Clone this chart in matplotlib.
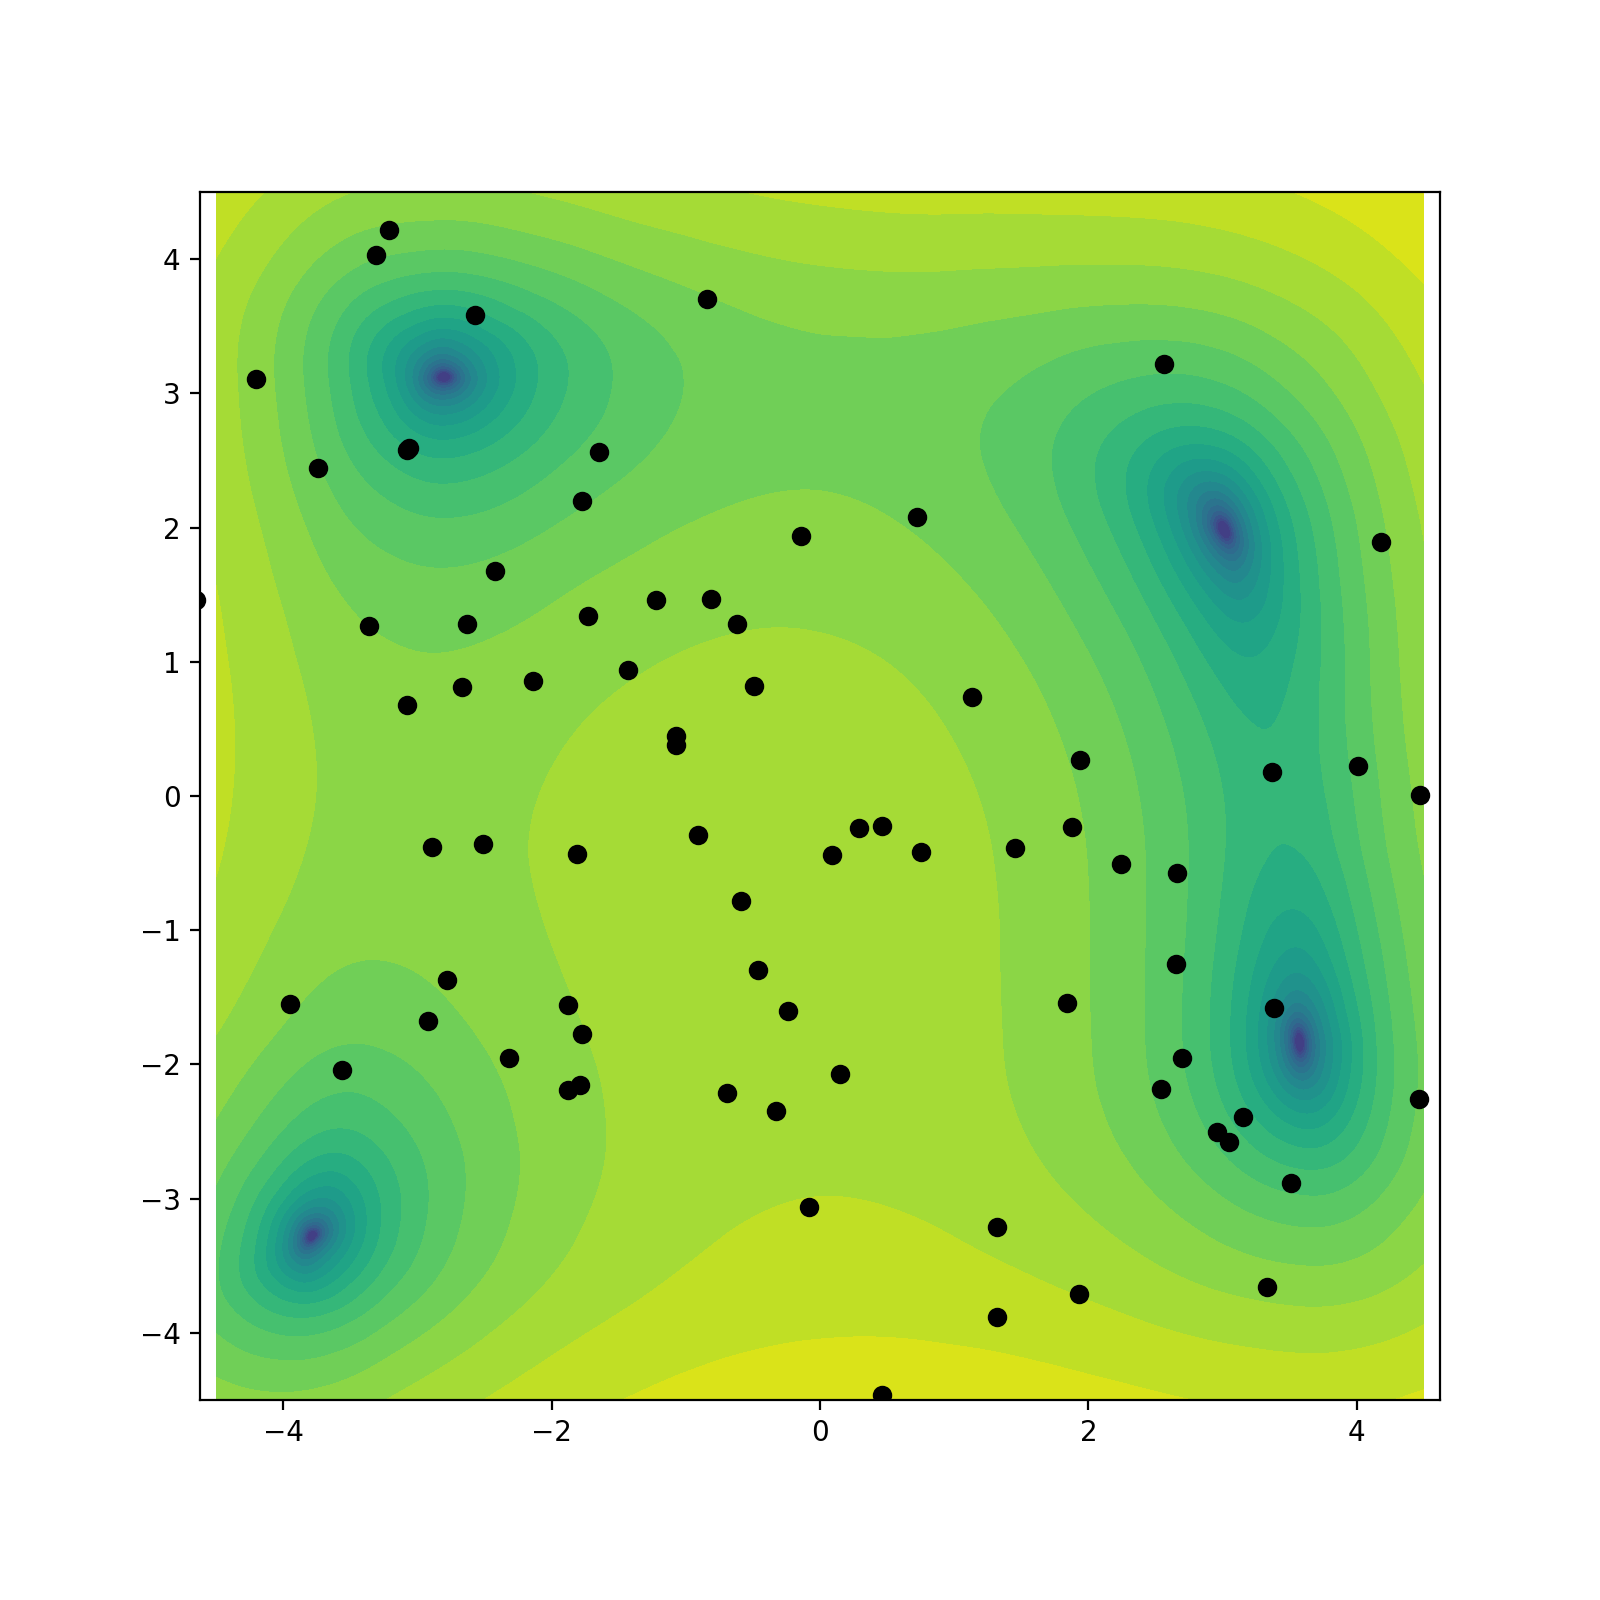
import numpy as np
import matplotlib
matplotlib.use("Agg")
import matplotlib.pyplot as plt
import matplotlib.tri as mtri

# surface table: nodes and estimated values (one row per y node)
grid_x = [-4.5, -3.78, -3.3, -2.8, -2, -1.25, -0.5, 0.25, 1, 1.75, 2.4, 3, 3.58, 4.1, 4.5]
grid_y = [-4.5, -3.8, -3.28, -2.6, -1.85, -1.2, -0.5, 0.25, 1, 1.5, 2, 2.5, 3.13, 3.8, 4.5]
surface = [
    [99, 91, 120, 168, 259, 338, 396, 420, 413, 380, 340, 306, 290, 303, 338],
    [38.3, 13.7, 32.4, 69.9, 147, 213, 260, 276, 261, 223, 179, 143, 125, 137, 173],
    [36.2, 0.01, 11.7, 42.4, 109, 168, 208, 218, 199, 156, 111, 73.6, 56, 68.2, 104],
    [66.7, 16.7, 19.8, 42.4, 97.2, 147, 179, 183, 160, 113, 66.2, 28.8, 11.8, 25.2, 62.3],
    [120, 56.3, 51.1, 65.8, 109, 150, 176, 175, 147, 99.2, 51.7, 15.1, 0.01, 16, 55.7],
    [166, 91.6, 80.2, 88.9, 124, 159, 180, 175, 146, 98, 51.5, 16.8, 4.3, 23.4, 65.9],
    [204, 119, 101, 105, 133, 163, 180, 173, 143, 96.2, 51.8, 20.3, 11.8, 35.2, 81.7],
    [221, 128, 105, 103, 125, 152, 165, 159, 130, 86, 45.5, 18.6, 15.6, 44.8, 96.2],
    [215, 114, 87.3, 82.1, 100, 124, 137, 132, 106, 66.3, 31, 10, 13.8, 50, 107],
    [202, 95.7, 66.7, 59.8, 75.9, 99, 113, 109, 86.4, 50.5, 19.5, 3.31, 12.4, 53.8, 116],
    [183, 74, 43.3, 35, 50, 73.5, 88.9, 87.5, 68, 36.9, 10.9, 0.01, 14.9, 62.2, 129],
    [166, 54, 22.1, 13, 27.9, 52.2, 69.7, 71.5, 56.4, 30.6, 10.2, 5.31, 26.7, 80.3, 152],
    [156, 42.2, 9.37, 0.01, 15.6, 42.2, 63.4, 70.3, 61.6, 43.8, 31.5, 34.9, 65.2, 128, 206],
    [179, 63.7, 30.7, 21.9, 39.8, 70.1, 96.5, 110, 110, 102, 98.9, 112, 153, 225, 313],
    [266, 150, 118, 111, 133, 168, 202, 224, 233, 237, 246, 270, 323, 407, 504],
]

# extra estimated values close to the four basins
near_x = [2.8, 3, 3.2, 2.8, 3.2, 2.8, 3, 3.2,
          -3, -2.8, -2.6, -3, -2.6, -3, -2.8, -2.6,
          -3.98, -3.78, -3.58, -3.98, -3.58, -3.98, -3.78, -3.58,
          3.38, 3.58, 3.78, 3.38, 3.78, 3.38, 3.58, 3.78]
near_y = [1.8, 1.8, 1.8, 2, 2, 2.2, 2.2, 2.2,
          2.93, 2.93, 2.93, 3.13, 3.13, 3.33, 3.33, 3.33,
          -3.48, -3.48, -3.48, -3.28, -3.28, -3.08, -3.08, -3.08,
          -2.05, -2.05, -2.05, -1.85, -1.85, -1.65, -1.65, -1.65]
near_z = [2.77, 0.62, 1.39, 1.39, 1.58, 1.33, 0.75, 3.15,
          2.87, 1.53, 2.75, 1.32, 1.27, 2.96, 1.69, 3.05,
          3.13, 1.81, 5.1, 2.48, 2.16, 5.32, 1.70, 2.78,
          3.0, 0.66, 2.5, 2.08, 2.11, 2.32, 0.52, 2.94]

# scatter points
pts_x = [-4.65, -4.20, -3.74, -3.31, -3.21, -2.57, -3.08, -3.06, -1.65, -1.77, -2.42, -3.36, -2.63,
         -2.67, -3.08, -2.14, -1.73, -1.22, -0.81, -0.62, -1.43, -0.49, -0.84, -0.14, 0.72,
         2.56, 4.18, 1.13, -1.07, -1.07, 1.94, 3.37, 4.01, 4.47, -2.89, -2.51, -1.81, -0.91,
         0.09, 0.29, 0.46, 0.75, 1.45, 1.88, 2.24, 2.66, -0.59, -0.46, -0.24, 2.65, -2.78,
         -3.95, -2.92, -1.88, -1.77, 1.84, 3.38, -3.56, -2.32, 2.70, 0.15, -1.88, -1.79,
         -0.69, -0.33, 2.54, 4.46, 3.15, 2.96, 3.05, 3.51, -0.08, 1.32, 3.33, 1.93, 1.32, 0.46]
pts_y = [1.46, 3.11, 2.44, 4.03, 4.22, 3.58, 2.58, 2.59, 2.56, 2.20, 1.68, 1.27, 1.28,
         0.81, 0.68, 0.86, 1.34, 1.46, 1.47, 1.28, 0.94, 0.82, 3.70, 1.94, 2.08,
         3.22, 1.89, 0.74, 0.45, 0.38, 0.27, 0.18, 0.22, 0.01, -0.38, -0.36, -0.43, -0.29,
         -0.44, -0.24, -0.22, -0.42, -0.39, -0.23, -0.51, -0.57, -0.78, -1.30, -1.60, -1.25, -1.37,
         -1.55, -1.68, -1.56, -1.77, -1.54, -1.58, -2.04, -1.95, -1.95, -2.07, -2.19, -2.15,
         -2.21, -2.35, -2.18, -2.26, -2.39, -2.50, -2.58, -2.88, -3.06, -3.21, -3.66, -3.71, -3.88, -4.46]

x_ticks = [-4, -2, 0, 2, 4]
y_ticks = [-4, -3, -2, -1, 0, 1, 2, 3, 4]
log_levels = np.arange(-1.3, 2.91, 0.2)

fig = plt.figure(figsize=(8, 8), dpi=200)
ax = fig.add_axes([0.125, 0.125, 0.775, 0.755])

X, Y = np.meshgrid(grid_x, grid_y)
node_x = np.concatenate([X.ravel(), near_x])
node_y = np.concatenate([Y.ravel(), near_y])
node_z = np.concatenate([np.array(surface, dtype=float).ravel(), near_z])
tri = mtri.Triangulation(node_x, node_y)
refiner = mtri.UniformTriRefiner(tri)
fine_tri, fine_z = refiner.refine_field(node_z, subdiv=4)
log_z = np.log10(np.clip(fine_z, 10 ** -1.29, None))

ax.tricontourf(fine_tri, log_z, levels=log_levels, cmap="viridis", vmin=-2.125, vmax=2.875)
ax.scatter(pts_x, pts_y, color="black", zorder=3)

ax.set_xlim(-4.62, 4.62)
ax.set_ylim(-4.5, 4.5)
ax.set_xticks(x_ticks)
ax.set_yticks(y_ticks)

fig.savefig("out.png", dpi=200)
